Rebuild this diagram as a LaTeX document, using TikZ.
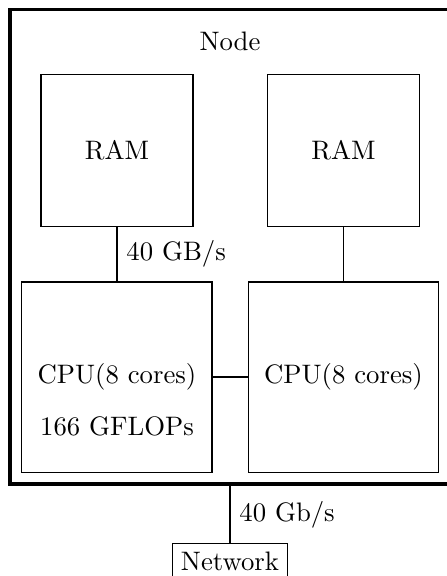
\documentclass[tikz,border=0pt]{standalone}
\begin{document}
\begin{tikzpicture}[x=0.013158cm, y=-0.013158cm,
  ramblock/.style={draw, minimum size=2cm, inner sep=0pt},
  cpublock/.style={draw, minimum size=2.5cm, inner sep=0pt},
  chassis/.style={draw, very thick, minimum width=6.579cm, minimum height=6.243cm, inner sep=0pt},
  netbox/.style={draw},
  link/.style={draw}]
  \useasboundingbox (0,0) rectangle (446,576);

  % enclosing compute node (its right side runs past the page edge)
  \node[chassis] (chassis) at (260,246.75) {};
  \node[anchor=base] (title) at (230,50) {Node};

  % memory and processors
  \node[ramblock] (ramL) at (117,150.4) {RAM};
  \node[ramblock] (ramR) at (343.5,150.4) {RAM};
  \node[cpublock] (cpuL) at (117,377) {CPU(8 cores)};
  \node[cpublock] (cpuR) at (343.5,377) {CPU(8 cores)};
  \node (flops) at (117,426) {166 GFLOPs};

  % links
  \draw[link] (ramL) -- node[right] (bw) {40 GB/s} (cpuL);
  \draw[link] (ramR) -- (cpuR);
  \draw[link] (cpuL) -- (cpuR);

  % network attachment
  \node[netbox, anchor=north] (net) at (230,543) {Network};
  \draw[link] (net.north |- chassis.south) -- node[right] (netbw) {40 Gb/s} (net.north);
\end{tikzpicture}
\end{document}
